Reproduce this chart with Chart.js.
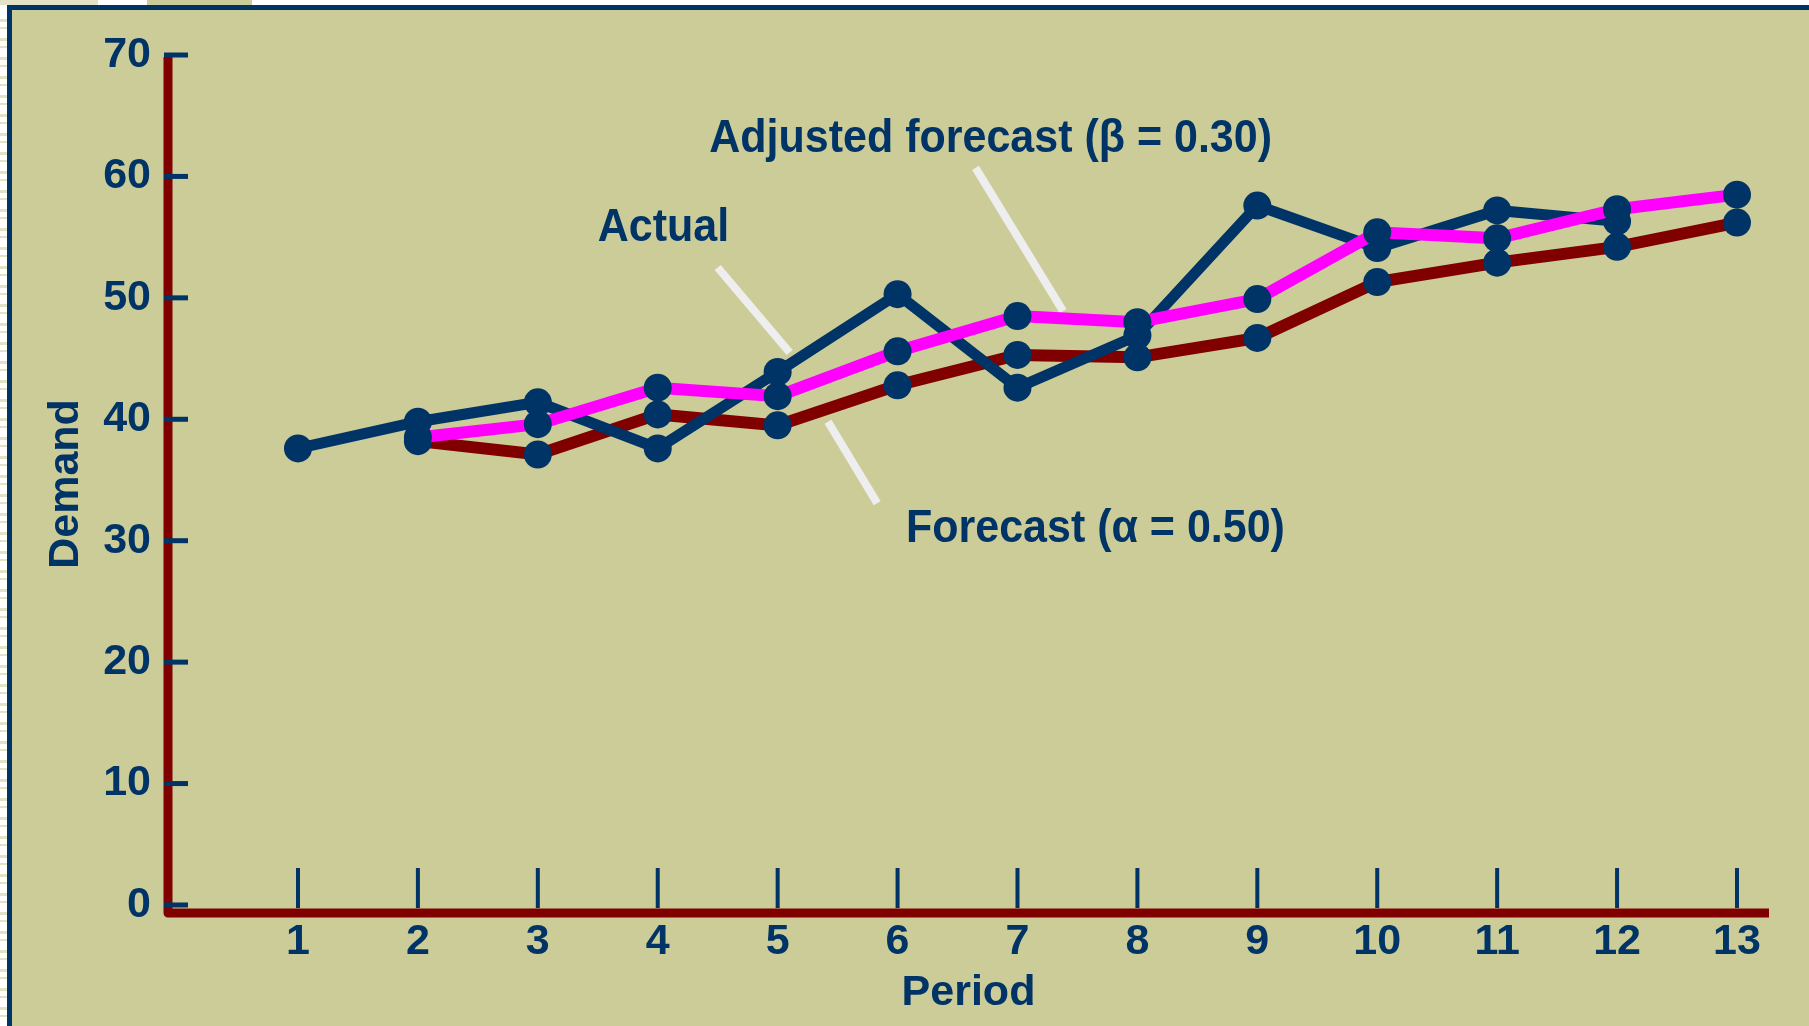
<!DOCTYPE html>
<html>
<head>
<meta charset="utf-8">
<title>Demand - Actual vs Forecast</title>
<script src="https://cdn.jsdelivr.net/npm/chart.js@4.4.1/dist/chart.umd.min.js"></script>
<style>
    html, body { margin: 0; padding: 0; background: #ffffff; overflow: hidden; }
    .marco {
        position: absolute; left: 7px; top: 5px; right: 0; bottom: 0;
        border-left: 5px solid #003366; border-top: 5px solid #003366;
        background: #cccc99;
    }
    .tira { position: absolute; top: 0; height: 5px; }
    .borde-izq {
        position: absolute; left: 0; top: 10px; width: 7px; bottom: 0;
        background: repeating-linear-gradient(#ffffff 0 9px, #e3e1c6 9px 12px, #ffffff 12px 17px, #e3e1c6 17px 19px);
    }
    #grafica { position: absolute; left: 0; top: 0; }
</style>
</head>
<body>
<div class="tira" style="left:0;width:98px;background:#e3e1c6"></div>
<div class="tira" style="left:147px;width:105px;background:#cccc99"></div>
<div class="borde-izq"></div>
<div class="marco"></div>
<canvas id="grafica" width="1809" height="1026"></canvas>

<script>
// Datos
const periodos = [1, 2, 3, 4, 5, 6, 7, 8, 9, 10, 11, 12, 13];
const valoresY = [0, 10, 20, 30, 40, 50, 60, 70];

// Demanda real (12 periodos)
const actual = [37.6, 39.8, 41.4, 37.6, 43.9, 50.3, 42.6, 46.9, 57.6, 54.1, 57.2, 56.3];
// Pronostico con suavizamiento (alfa = 0.50)
const pronostico = [null, 38.2, 37.1, 40.4, 39.5, 42.8, 45.3, 45.1, 46.7, 51.3, 52.9, 54.2, 56.2];
// Pronostico ajustado por tendencia (beta = 0.30)
const ajustado = [null, 38.5, 39.6, 42.6, 41.9, 45.6, 48.5, 48.0, 49.9, 55.4, 54.9, 57.3, 58.5];

// Etiquetas de las series (x, y en unidades de datos, borde izquierdo)
const etiquetas = [
    { texto: 'Actual', x: 3.50, y: 55.7 },
    { texto: 'Adjusted forecast (\u03B2 = 0.30)', x: 4.43, y: 63.1 },
    { texto: 'Forecast (\u03B1 = 0.50)', x: 6.07, y: 30.95 }
];
// Lineas guia claras hacia cada serie [x1, y1, x2, y2]
const guias = [
    [4.50, 52.5, 5.10, 45.5],
    [6.65, 60.7, 7.38, 48.9],
    [5.42, 39.8, 5.83, 33.1]
];

const AZUL = '#003366';
const ROJO = '#800000';
const ROSA = '#ff00ff';
const FUENTE = '"Liberation Sans", Arial, sans-serif';
const TAM = 43;

function toPoints(serie) {
    return serie.map((v, i) => ({ x: periodos[i], y: v }));
}

// Plugin para ejes rojos, marcas azules, guias y textos
const ejesPlugin = {
    id: 'ejesDemanda',
    beforeDatasetsDraw(chart) {
        const { ctx, chartArea, scales } = chart;
        const x = scales.x, y = scales.y;
        ctx.save();

        // guias claras
        ctx.strokeStyle = '#eeeeee';
        ctx.lineWidth = 8;
        ctx.lineCap = 'butt';
        guias.forEach(g => {
            ctx.beginPath();
            ctx.moveTo(x.getPixelForValue(g[0]), y.getPixelForValue(g[1]));
            ctx.lineTo(x.getPixelForValue(g[2]), y.getPixelForValue(g[3]));
            ctx.stroke();
        });

        // ejes rojos
        ctx.strokeStyle = ROJO;
        ctx.lineWidth = 9;
        ctx.lineJoin = 'round';
        ctx.beginPath();
        ctx.moveTo(chartArea.left, chartArea.top + 2);
        ctx.lineTo(chartArea.left, chartArea.bottom);
        ctx.lineTo(chartArea.right, chartArea.bottom);
        ctx.stroke();

        // marcas del eje y
        ctx.strokeStyle = AZUL;
        ctx.lineWidth = 5;
        valoresY.forEach(v => {
            const py = y.getPixelForValue(v);
            ctx.beginPath();
            ctx.moveTo(chartArea.left - 4, py);
            ctx.lineTo(chartArea.left + 20, py);
            ctx.stroke();
        });

        // marcas del eje x
        ctx.lineWidth = 4;
        periodos.forEach(p => {
            const px = x.getPixelForValue(p);
            ctx.beginPath();
            ctx.moveTo(px, chartArea.bottom - 5);
            ctx.lineTo(px, chartArea.bottom - 45);
            ctx.stroke();
        });
        ctx.restore();
    },
    afterDatasetsDraw(chart) {
        const { ctx, scales } = chart;
        ctx.save();
        ctx.fillStyle = AZUL;
        ctx.font = 'bold ' + TAM + 'px ' + FUENTE;
        ctx.textAlign = 'left';
        ctx.textBaseline = 'middle';
        etiquetas.forEach(e => {
            // texto un poco mas alto que ancho, como en el original
            ctx.save();
            ctx.translate(scales.x.getPixelForValue(e.x), scales.y.getPixelForValue(e.y));
            ctx.scale(1, 1.08);
            ctx.fillText(e.texto, 0, 0);
            ctx.restore();
        });
        ctx.restore();
    }
};

function serie(label, datos, color, ancho, orden) {
    return {
        label: label,
        data: toPoints(datos),
        borderColor: color,
        borderWidth: ancho,
        backgroundColor: AZUL,
        pointBackgroundColor: AZUL,
        pointBorderWidth: 0,
        pointRadius: 14,
        tension: 0,
        order: orden
    };
}

const ctx = document.getElementById('grafica').getContext('2d');
new Chart(ctx, {
    type: 'line',
    data: {
        datasets: [
            serie('Forecast', pronostico, ROJO, 12, 3),
            serie('Actual', actual, AZUL, 11, 2),
            serie('Adjusted forecast', ajustado, ROSA, 12, 1)
        ]
    },
    options: {
        responsive: false,
        animation: false,
        layout: { padding: { top: 55, right: 40, left: 0, bottom: 0 } },
        plugins: {
            legend: { display: false },
            tooltip: { enabled: false }
        },
        scales: {
            x: {
                type: 'linear',
                min: -0.084,
                max: 13.267,
                grid: { display: false, drawTicks: false },
                border: { display: false },
                afterBuildTicks: scale => { scale.ticks = periodos.map(v => ({ value: v })); },
                afterFit: scale => { scale.height = 113; },
                ticks: {
                    color: AZUL,
                    padding: 3,
                    maxRotation: 0,
                    autoSkip: false,
                    font: { family: FUENTE, size: TAM, weight: 'bold' }
                },
                title: {
                    display: true,
                    text: 'Period',
                    color: AZUL,
                    padding: { top: 0, bottom: 7 },
                    font: { family: FUENTE, size: TAM, weight: 'bold' }
                }
            },
            y: {
                min: -0.66,
                max: 70,
                grid: { display: false, drawTicks: false },
                border: { display: false },
                afterBuildTicks: scale => { scale.ticks = valoresY.map(v => ({ value: v })); },
                afterFit: scale => { scale.width = 168; },
                ticks: {
                    color: AZUL,
                    padding: 17,
                    font: { family: FUENTE, size: TAM, weight: 'bold' }
                },
                title: {
                    display: true,
                    text: 'Demand',
                    color: AZUL,
                    padding: { top: 40, bottom: 0 },
                    font: { family: FUENTE, size: TAM, weight: 'bold' }
                }
            }
        }
    },
    plugins: [ejesPlugin]
});
</script>
</body>
</html>
